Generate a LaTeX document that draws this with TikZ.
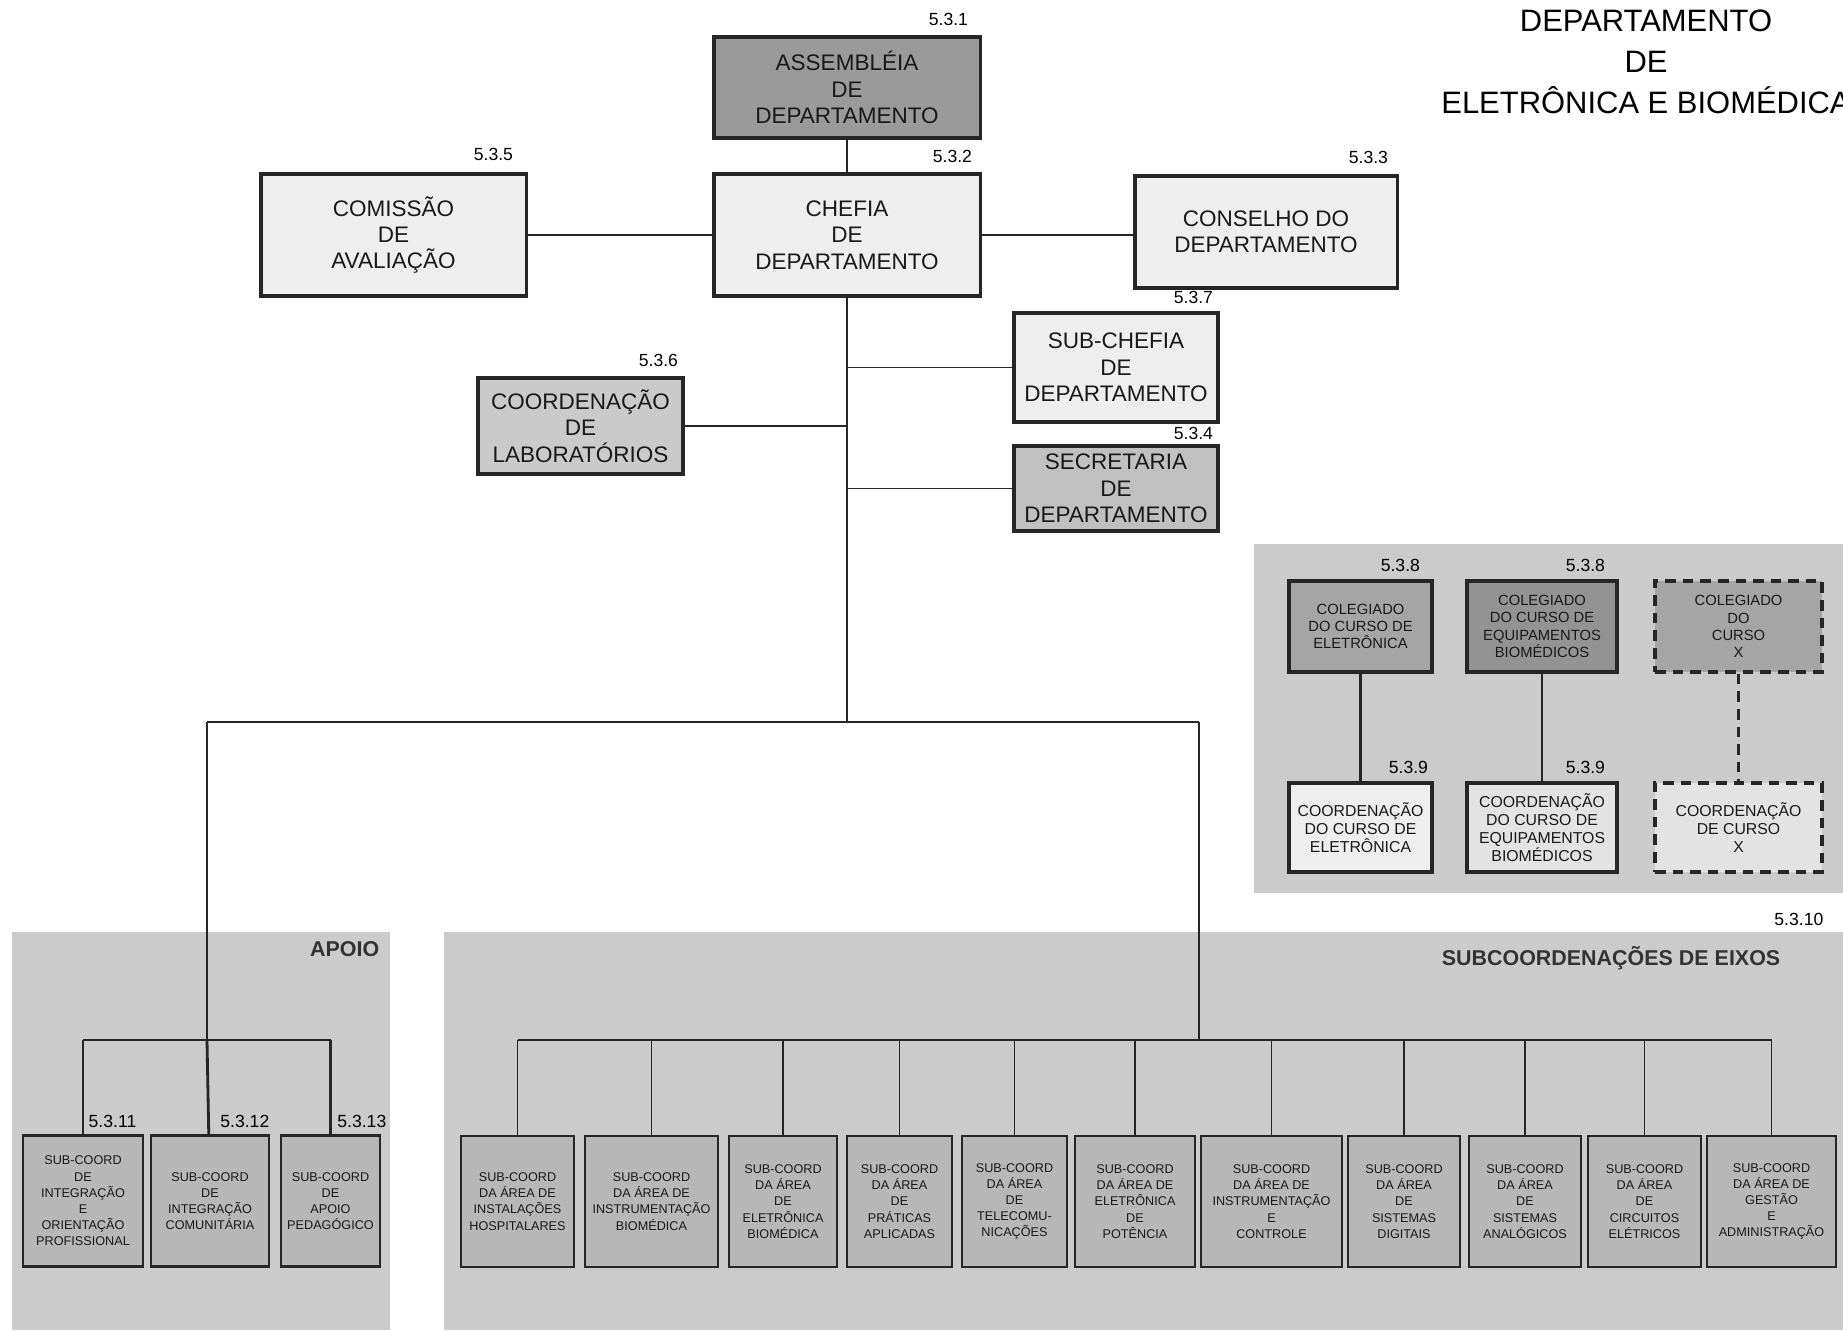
\documentclass[tikz,border=0pt]{standalone}
\usepackage{fontspec}
\setmainfont{Liberation Sans}
\usepackage{tikz}
\usetikzlibrary{positioning,calc}

\definecolor{claro}{HTML}{EEEEEE}
\definecolor{assemb}{HTML}{9A9A9A}
\definecolor{medio}{HTML}{CACACA}
\definecolor{secr}{HTML}{C0C0C0}
\definecolor{painel}{HTML}{CBCBCB}
\definecolor{subc}{HTML}{B7B7B7}
\definecolor{coleg}{HTML}{A5A5A5}
\definecolor{colegeq}{HTML}{939393}
\definecolor{coordeq}{HTML}{E3E3E3}

\begin{document}
\begin{tikzpicture}[
    x=0.01cm, y=-0.01cm,
    caixa/.style={
        draw=black!85,
        line width=0.9pt,
        align=center,
        inner sep=1pt,
        text=black!90
    },
    orgao/.style={
        caixa,
        fill=claro,
        font=\fontsize{6.4}{7.5}\selectfont
    },
    curso/.style={
        caixa,
        fill=claro,
        font=\fontsize{4.5}{5.1}\selectfont
    },
    colegiado/.style={
        caixa,
        fill=coleg,
        font=\fontsize{4.2}{4.9}\selectfont
    },
    sub/.style={
        caixa,
        fill=subc,
        line width=0.8pt,
        minimum height=1.31cm,
        font=\fontsize{3.6}{4.6}\selectfont
    },
    tracejada/.style={
        dash pattern=on 3pt off 2pt,
        line width=1pt
    },
    num/.style={
        font=\fontsize{5}{5}\selectfont,
        inner sep=0pt
    },
    liga/.style={
        line width=0.8pt,
        draw=black!85
    },
    fina/.style={
        line width=0.5pt,
        draw=black!85
    },
    titulo/.style={
        font=\fontsize{6.1}{6.1}\selectfont\bfseries,
        text=black!80,
        inner sep=0pt
    }
]

\useasboundingbox (0,0) rectangle (1843,1330);

%-------------------------------------------------
% Panels
%-------------------------------------------------

\fill[painel] (12,932) rectangle (390,1330);
\fill[painel] (444,932) rectangle (1843,1330);
\fill[painel] (1254,544) rectangle (1843,893);

\node[titulo,anchor=east] (tapoio) at (380,949) {APOIO};
\node[titulo,anchor=east] (teixos) at (1781,958) {SUBCOORDENAÇÕES DE EIXOS};
\node[num,anchor=east] (n5310) at (1824,919) {5.3.10};

%-------------------------------------------------
% Title
%-------------------------------------------------

\node[align=center,font=\fontsize{8.8}{11.7}\selectfont,text=black] (tit) at (1646,62)
{DEPARTAMENTO\\DE\\ELETRÔNICA E BIOMÉDICA};

%-------------------------------------------------
% Direction
%-------------------------------------------------

\node[orgao,fill=assemb,minimum width=2.66cm,minimum height=1.01cm] (assemb) at (847,87.5)
{ASSEMBLÉIA\\DE\\DEPARTAMENTO};
\node[orgao,minimum width=2.66cm,minimum height=1.22cm] (chefia) at (847,235)
{CHEFIA\\DE\\DEPARTAMENTO};
\node[orgao,minimum width=2.65cm,minimum height=1.22cm] (comissao) at (393.5,235)
{COMISSÃO\\DE\\AVALIAÇÃO};
\node[orgao,minimum width=2.62cm,minimum height=1.12cm] (conselho) at (1266,232)
{CONSELHO DO\\DEPARTAMENTO};
\node[orgao,minimum width=2.04cm,minimum height=1.09cm] (subchefia) at (1116,367.5)
{SUB-CHEFIA\\DE\\DEPARTAMENTO};
\node[orgao,fill=secr,minimum width=2.04cm,minimum height=0.85cm] (secretaria) at (1116,488.5)
{SECRETARIA\\DE\\DEPARTAMENTO};
\node[orgao,fill=medio,minimum width=2.05cm,minimum height=0.96cm] (labs) at (580.5,426)
{COORDENAÇÃO\\DE\\LABORATÓRIOS};

\node[num,above left=0.9mm and 1.3mm of assemb.north east] (n531) {5.3.1};
\node[num,above left=0.9mm and 0.9mm of chefia.north east] (n532) {5.3.2};
\node[num,above left=1.1mm and 1.4mm of comissao.north east] (n535) {5.3.5};
\node[num,above left=1mm and 1mm of conselho.north east] (n533) {5.3.3};
\node[num,above left=0.7mm and 0.6mm of subchefia.north east] (n537) {5.3.7};
\node[num,above left=0.4mm and 0.6mm of secretaria.north east] (n534) {5.3.4};
\node[num,above left=0.9mm and 0.6mm of labs.north east] (n536) {5.3.6};

\coordinate (tronco) at (847,722);
\coordinate (barraA) at (207,722);
\coordinate (barraE) at (1199,722);
\coordinate (apoioT) at (207,1040);
\coordinate (eixosT) at (1199,1040);

\draw[fina] (assemb) -- (chefia);
\draw[liga] (comissao) -- (chefia);
\draw[liga] (chefia.east) -- (chefia.east -| conselho.west);
\draw[fina] (chefia.south) -- (tronco);
\draw[fina] (subchefia.west) -- (subchefia.west -| tronco);
\draw[fina] (secretaria.west) -- (secretaria.west -| tronco);
\draw[fina] (labs.east) -- (labs.east -| tronco);
\draw[fina] (barraA) -- (barraE);
\draw[fina] (barraA) -- (apoioT);
\draw[fina] (barraE) -- (eixosT);

%-------------------------------------------------
% Courses
%-------------------------------------------------

\node[colegiado,minimum width=1.43cm,minimum height=0.91cm] (colEl) at (1360.5,626.5)
{COLEGIADO\\DO CURSO DE\\ELETRÔNICA};
\node[colegiado,fill=colegeq,minimum width=1.50cm,minimum height=0.91cm] (colEq) at (1542,626.5)
{COLEGIADO\\DO CURSO DE\\EQUIPAMENTOS\\BIOMÉDICOS};
\node[colegiado,tracejada,minimum width=1.67cm,minimum height=0.91cm] (colX) at (1738.5,626.5)
{COLEGIADO\\DO\\CURSO\\X};

\node[curso,minimum width=1.43cm,minimum height=0.89cm] (coordEl) at (1360.5,827.5)
{COORDENAÇÃO\\DO CURSO DE\\ELETRÔNICA};
\node[curso,fill=coordeq,minimum width=1.50cm,minimum height=0.89cm] (coordEq) at (1542,827.5)
{COORDENAÇÃO\\DO CURSO DE\\EQUIPAMENTOS\\BIOMÉDICOS};
\node[curso,fill=coordeq,tracejada,minimum width=1.67cm,minimum height=0.89cm] (coordX) at (1738.5,827.5)
{COORDENAÇÃO\\DE CURSO\\X};

\node[num,above left=0.7mm and 1.3mm of colEl.north east] (n538a) {5.3.8};
\node[num,above left=0.7mm and 1.3mm of colEq.north east] (n538b) {5.3.8};
\node[num,above left=0.7mm and 0.5mm of coordEl.north east] (n539a) {5.3.9};
\node[num,above left=0.7mm and 1.3mm of coordEq.north east] (n539b) {5.3.9};

\draw[liga] (colEl) -- (coordEl);
\draw[fina] (colEq) -- (coordEq);
\draw[liga,tracejada] (colX) -- (coordX);

%-------------------------------------------------
% Support
%-------------------------------------------------

\node[sub,minimum width=1.20cm] (ap1) at (83,1201)
{SUB-COORD\\DE\\INTEGRAÇÃO\\E\\ORIENTAÇÃO\\PROFISSIONAL};
\node[sub,minimum width=1.18cm] (ap2) at (210,1201)
{SUB-COORD\\DE\\INTEGRAÇÃO\\COMUNITÁRIA};
\node[sub,minimum width=0.99cm] (ap3) at (330.5,1201)
{SUB-COORD\\DE\\APOIO\\PEDAGÓGICO};

\node[num,anchor=south east] (n5311) at (137,1128) {5.3.11};
\node[num,anchor=south east] (n5312) at (270,1128) {5.3.12};
\node[num,anchor=south east] (n5313) at (387,1128) {5.3.13};

\draw[liga] (ap1.north |- apoioT) -- (ap3.north |- apoioT);
\draw[liga] (ap1.north |- apoioT) -- (ap1);
\draw[liga] (apoioT) -- (ap2);
\draw[liga] (ap3.north |- apoioT) -- (ap3);

%-------------------------------------------------
% Axes
%-------------------------------------------------

\node[sub,minimum width=1.13cm] (ex1) at (517.5,1201.5)
{SUB-COORD\\DA ÁREA DE\\INSTALAÇÕES\\HOSPITALARES};
\node[sub,minimum width=1.33cm] (ex2) at (651.5,1201.5)
{SUB-COORD\\DA ÁREA DE\\INSTRUMENTAÇÃO\\BIOMÉDICA};
\node[sub,minimum width=1.08cm] (ex3) at (783,1201.5)
{SUB-COORD\\DA ÁREA\\DE\\ELETRÔNICA\\BIOMÉDICA};
\node[sub,minimum width=1.05cm] (ex4) at (899.5,1201.5)
{SUB-COORD\\DA ÁREA\\DE\\PRÁTICAS\\APLICADAS};
\node[sub,minimum width=1.05cm] (ex5) at (1014.5,1201.5)
{SUB-COORD\\DA ÁREA\\DE\\TELECOMU-\\NICAÇÕES};
\node[sub,minimum width=1.20cm] (ex6) at (1135,1201.5)
{SUB-COORD\\DA ÁREA DE\\ELETRÔNICA\\DE\\POTÊNCIA};
\node[sub,minimum width=1.41cm] (ex7) at (1271.5,1201.5)
{SUB-COORD\\DA ÁREA DE\\INSTRUMENTAÇÃO\\E\\CONTROLE};
\node[sub,minimum width=1.12cm] (ex8) at (1404,1201.5)
{SUB-COORD\\DA ÁREA\\DE\\SISTEMAS\\DIGITAIS};
\node[sub,minimum width=1.12cm] (ex9) at (1525,1201.5)
{SUB-COORD\\DA ÁREA\\DE\\SISTEMAS\\ANALÓGICOS};
\node[sub,minimum width=1.13cm] (ex10) at (1644.5,1201.5)
{SUB-COORD\\DA ÁREA\\DE\\CIRCUITOS\\ELÉTRICOS};
\node[sub,minimum width=1.29cm] (ex11) at (1771.5,1201.5)
{SUB-COORD\\DA ÁREA DE\\GESTÃO\\E\\ADMINISTRAÇÃO};

\draw[liga] (ex1.north |- eixosT) -- (ex11.north |- eixosT);
\foreach \i in {1,...,11}{
    \draw[fina] (ex\i.north |- eixosT) -- (ex\i);
}

\end{tikzpicture}
\end{document}
